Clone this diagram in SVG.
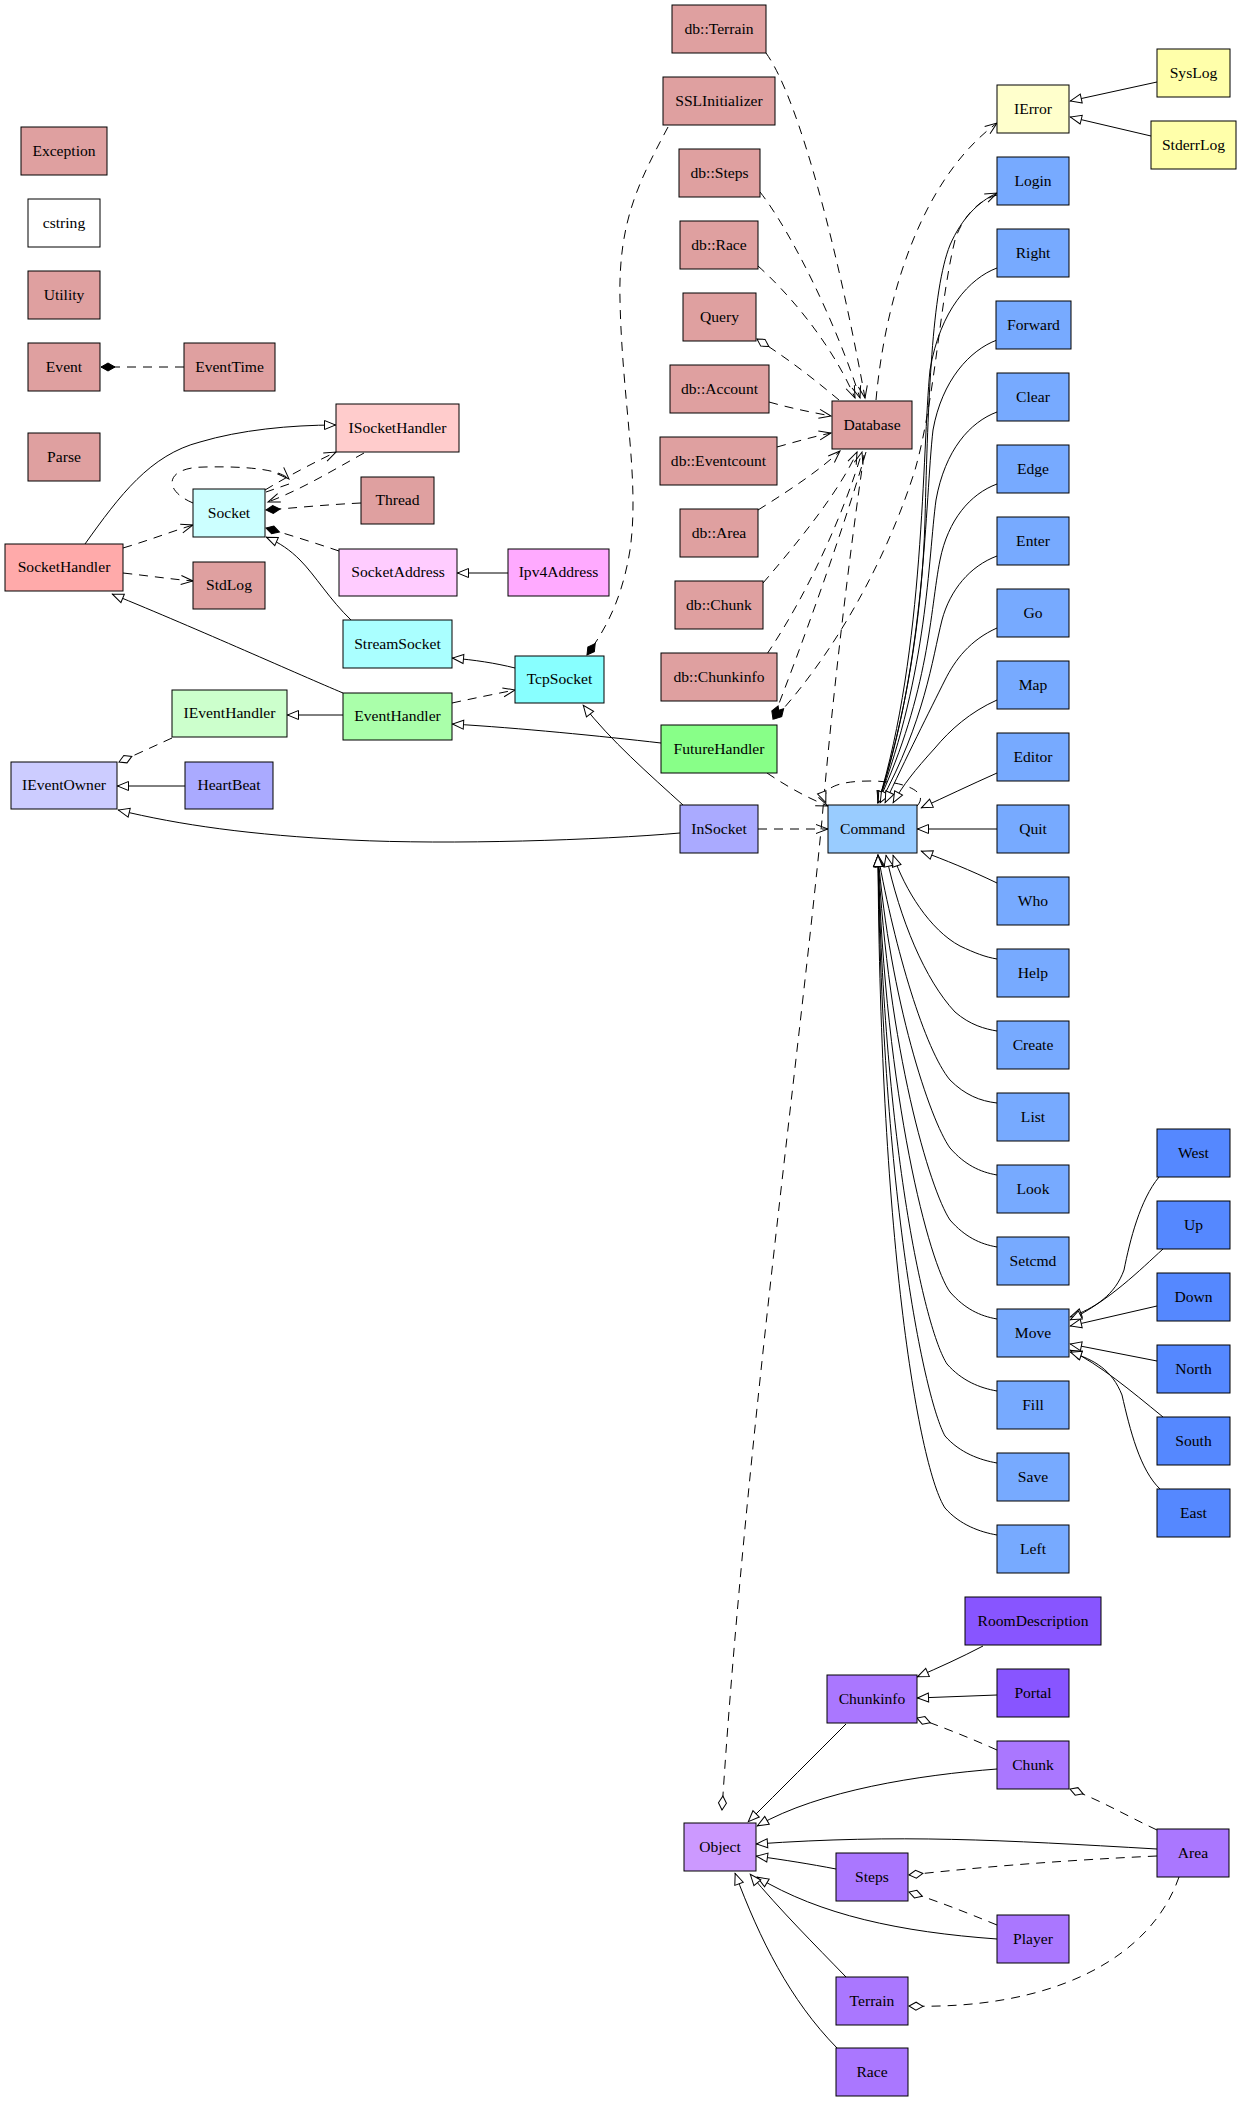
<svg xmlns="http://www.w3.org/2000/svg" width="1242" height="2101" viewBox="0 0 1242 2101">
<style>
.n rect{stroke:#000;stroke-width:1}
.n text{font-family:"Liberation Serif","Times New Roman",serif;font-size:15.6px;text-anchor:middle;fill:#000}
.e{fill:none;stroke:#000;stroke-width:1}
.d{stroke-dasharray:9,7}
.pk{fill:#dfa0a0}.wh{fill:#ffffff}
.c1{fill:#77aaff}.c2{fill:#5588ff}.cm{fill:#99ccff}
.p1{fill:#aa77ff}.p2{fill:#8855ff}.p0{fill:#cc99ff}
.v{marker-end:url(#vee)}.t{marker-end:url(#tri)}.f{marker-end:url(#dmdF)}.o{marker-end:url(#dmdO)}
</style>
<defs>
<marker id="vee" viewBox="0 0 12 10" refX="12" refY="5" markerWidth="12" markerHeight="10" orient="auto" markerUnits="userSpaceOnUse" overflow="visible"><path d="M0,0.5 L12,5 L0,9.5" fill="none" stroke="#000" stroke-width="1"/></marker>
<marker id="tri" viewBox="0 0 12 10" refX="12" refY="5" markerWidth="12" markerHeight="10" orient="auto" markerUnits="userSpaceOnUse" overflow="visible"><path d="M0.5,0.5 L11.5,5 L0.5,9.5 Z" fill="#fff" stroke="#000" stroke-width="1"/></marker>
<marker id="dmdF" viewBox="0 0 14 9" refX="14" refY="4.5" markerWidth="14" markerHeight="9" orient="auto" markerUnits="userSpaceOnUse" overflow="visible"><path d="M0,4.5 L7,0.5 L14,4.5 L7,8.5 Z" fill="#000" stroke="#000" stroke-width="1"/></marker>
<marker id="dmdO" viewBox="0 0 14 9" refX="14" refY="4.5" markerWidth="14" markerHeight="9" orient="auto" markerUnits="userSpaceOnUse" overflow="visible"><path d="M0,4.5 L7,0.5 L14,4.5 L7,8.5 Z" fill="#fff" stroke="#000" stroke-width="1"/></marker>
</defs>
<rect width="1242" height="2101" fill="#fff"/>

<g id="edges">
<path class="e d f" d="M184,367 L101,367"/>
<path class="e t" d="M85,544 C120,495 150,455 200,442 C240,430 290,425 336,425"/>
<path class="e d v" d="M123,548 C150,540 170,532 193,525"/>
<path class="e d v" d="M123,573 C150,576 170,579 193,581"/>
<path class="e d v" d="M265,490 C290,475 315,462 336,452"/>
<path class="e d v" d="M364,453 C330,472 300,490 268,502"/>
<path class="e d v" d="M193,503 C162,490 165,467 205,467 C250,466 280,470 289,479"/>
<path class="e d" d="M289,484 L266,492"/>
<path class="e d f" d="M361,503 C320,505 295,508 266,510"/>
<path class="e d f" d="M339,551 C315,543 290,535 266,528"/>
<path class="e t" d="M351,620 C330,600 315,575 300,560 C290,550 280,543 266,537"/>
<path class="e t" d="M508,573 L457,573"/>
<path class="e t" d="M515,668 C495,663 475,660 452,658"/>
<path class="e d f" d="M668,127 C640,180 618,220 620,300 C622,400 640,480 630,550 C622,600 605,630 587,655"/>
<path class="e t" d="M343,693 C300,675 200,630 112,594"/>
<path class="e t" d="M343,715 L287,715"/>
<path class="e d v" d="M452,703 C475,698 495,694 515,690"/>
<path class="e t" d="M661,743 C600,736 520,728 452,724"/>
<path class="e t" d="M683,805 C650,775 610,740 583,705"/>
<path class="e d o" d="M172,738 C150,748 135,755 119,762"/>
<path class="e t" d="M185,786 L117,786"/>
<path class="e t" d="M680,833 C600,840 450,845 350,840 C250,835 180,825 118,810"/>
<path class="e d v" d="M758,829 L828,829"/>

<path class="e d v" d="M766,53 C800,100 840,260 865,398"/>
<path class="e d v" d="M760,192 C790,230 835,320 860,398"/>
<path class="e d v" d="M758,266 C785,290 830,340 855,398"/>
<path class="e d o" d="M839,400 C815,380 790,360 757,339"/>
<path class="e d v" d="M769,402 C790,408 810,412 831,416"/>
<path class="e d v" d="M777,447 C795,442 812,437 831,433"/>
<path class="e d v" d="M758,510 C790,490 820,470 840,451"/>
<path class="e d v" d="M763,583 C800,540 840,490 857,452"/>
<path class="e d v" d="M767,654 C810,590 845,510 862,452"/>
<path class="e d f" d="M866,452 C840,540 800,650 773,719"/>
<path class="e d f" d="M997,195 C978,200 962,218 955,240 C940,300 935,400 915,470 C880,580 820,670 774,719"/>
<path class="e d v" d="M876,400 C885,300 920,180 997,123"/>
<path class="e d o" d="M864,455 C850,550 832,700 822,820 C800,1050 745,1450 722,1810"/>
<path class="e d v" d="M767,773 C785,785 805,797 828,806"/>
<path class="e d t" d="M917,806 C930,792 905,781 870,781 C838,781 820,788 826,803"/>
<path class="e v" d="M878,803 C905,720 922,620 925,520 C928,400 932,290 950,245 C962,218 978,202 997,193"/>

<path class="e t" d="M1157,82 L1070,101"/>
<path class="e t" d="M1151,136 L1070,117"/>

<path class="e t" d="M997,268 C970,278 940,310 930,370 C922,450 925,650 878,803"/>
<path class="e t" d="M997,340 C970,350 942,380 933,430 C925,500 926,660 878,803"/>
<path class="e t" d="M997,412 C970,422 945,450 936,500 C928,560 928,670 878,803"/>
<path class="e t" d="M997,484 C970,494 948,520 940,560 C930,610 930,690 878,803"/>
<path class="e t" d="M997,556 C970,566 950,590 942,620 C932,660 925,720 880,803"/>
<path class="e t" d="M997,628 C970,640 955,660 945,680 C930,710 905,760 885,803"/>
<path class="e t" d="M997,700 C970,712 950,730 935,748 C915,770 903,785 893,803"/>
<path class="e t" d="M997,773 C970,785 945,797 921,808"/>
<path class="e t" d="M997,829 L917,829"/>
<path class="e t" d="M997,883 C970,870 945,860 921,851"/>
<path class="e t" d="M997,959 C985,957 975,953 960,946 C930,930 905,890 893,855"/>
<path class="e t" d="M997,1031 C985,1029 970,1025 955,1012 C925,980 900,920 886,855"/>
<path class="e t" d="M997,1103 C980,1101 965,1095 950,1080 C925,1050 895,950 878,855"/>
<path class="e t" d="M997,1175 C980,1172 965,1165 950,1148 C930,1120 890,1000 878,855"/>
<path class="e t" d="M997,1247 C980,1244 965,1237 950,1220 C930,1190 888,1050 878,855"/>
<path class="e t" d="M997,1319 C980,1316 965,1309 950,1292 C930,1265 885,1100 878,855"/>
<path class="e t" d="M997,1391 C980,1388 962,1381 947,1364 C925,1330 884,1150 878,855"/>
<path class="e t" d="M997,1463 C980,1460 960,1453 945,1436 C925,1400 882,1200 878,855"/>
<path class="e t" d="M997,1535 C980,1532 960,1525 945,1508 C920,1470 880,1250 878,855"/>

<path class="e t" d="M1159,1177 C1140,1200 1130,1240 1124,1270 C1115,1295 1095,1308 1070,1317"/>
<path class="e t" d="M1163,1249 C1140,1270 1110,1300 1070,1320"/>
<path class="e t" d="M1157,1306 L1070,1326"/>
<path class="e t" d="M1157,1361 L1070,1344"/>
<path class="e t" d="M1163,1417 C1130,1390 1100,1365 1070,1350"/>
<path class="e t" d="M1160,1489 C1140,1470 1130,1430 1122,1395 C1112,1370 1095,1360 1070,1352"/>

<path class="e t" d="M983,1646 C960,1658 940,1667 917,1677"/>
<path class="e t" d="M997,1695 L917,1698"/>
<path class="e d o" d="M997,1750 C970,1738 945,1728 917,1718"/>
<path class="e t" d="M846,1724 C815,1755 780,1790 748,1822"/>
<path class="e t" d="M997,1769 C920,1775 820,1790 757,1826"/>
<path class="e d o" d="M1157,1830 C1125,1815 1100,1800 1070,1789"/>
<path class="e t" d="M1157,1849 C1000,1840 900,1834 756,1844"/>
<path class="e d o" d="M1157,1856 C1070,1860 990,1866 909,1875"/>
<path class="e t" d="M836,1869 C810,1864 785,1860 756,1856"/>
<path class="e d o" d="M997,1925 C965,1912 940,1902 909,1892"/>
<path class="e t" d="M997,1939 C900,1932 820,1915 757,1877"/>
<path class="e d o" d="M1179,1877 C1150,1960 1050,2010 909,2006"/>
<path class="e t" d="M846,1977 C815,1945 780,1910 750,1874"/>
<path class="e t" d="M837,2048 C790,2000 760,1940 735,1873"/>
</g>

<g id="n-Exception" class="n"><rect class="pk" x="21" y="127" width="86" height="48"/><text x="64" y="156">Exception</text></g>
<g id="n-cstring" class="n"><rect class="wh" x="28" y="199" width="72" height="48"/><text x="64" y="228">cstring</text></g>
<g id="n-Utility" class="n"><rect class="pk" x="28" y="271" width="72" height="48"/><text x="64" y="300">Utility</text></g>
<g id="n-Event" class="n"><rect class="pk" x="28" y="343" width="72" height="48"/><text x="64" y="372">Event</text></g>
<g id="n-EventTime" class="n"><rect class="pk" x="184" y="343" width="91" height="48"/><text x="229.5" y="372">EventTime</text></g>
<g id="n-Parse" class="n"><rect class="pk" x="28" y="433" width="72" height="48"/><text x="64" y="462">Parse</text></g>
<g id="n-ISocketHandler" class="n"><rect fill="#ffcccc" x="336" y="404" width="123" height="48"/><text x="397.5" y="433">ISocketHandler</text></g>
<g id="n-Socket" class="n"><rect fill="#ccffff" x="193" y="489" width="72" height="48"/><text x="229" y="518">Socket</text></g>
<g id="n-Thread" class="n"><rect class="pk" x="361" y="477" width="73" height="47"/><text x="397.5" y="505">Thread</text></g>
<g id="n-SocketHandler" class="n"><rect fill="#ffaaaa" x="5" y="544" width="118" height="47"/><text x="64" y="572">SocketHandler</text></g>
<g id="n-StdLog" class="n"><rect class="pk" x="193" y="562" width="72" height="47"/><text x="229" y="590">StdLog</text></g>
<g id="n-SocketAddress" class="n"><rect fill="#ffccff" x="339" y="549" width="118" height="47"/><text x="398" y="577">SocketAddress</text></g>
<g id="n-Ipv4Address" class="n"><rect fill="#ffaaff" x="508" y="549" width="101" height="47"/><text x="558.5" y="577">Ipv4Address</text></g>
<g id="n-StreamSocket" class="n"><rect fill="#aaffff" x="343" y="620" width="109" height="48"/><text x="397.5" y="649">StreamSocket</text></g>
<g id="n-TcpSocket" class="n"><rect fill="#88ffff" x="515" y="656" width="89" height="47"/><text x="559.5" y="684">TcpSocket</text></g>
<g id="n-IEventHandler" class="n"><rect fill="#ccffcc" x="172" y="690" width="115" height="47"/><text x="229.5" y="718">IEventHandler</text></g>
<g id="n-EventHandler" class="n"><rect fill="#aaffaa" x="343" y="693" width="109" height="47"/><text x="397.5" y="721">EventHandler</text></g>
<g id="n-IEventOwner" class="n"><rect fill="#ccccff" x="11" y="762" width="106" height="47"/><text x="64" y="790">IEventOwner</text></g>
<g id="n-HeartBeat" class="n"><rect fill="#aaaaff" x="185" y="762" width="88" height="47"/><text x="229" y="790">HeartBeat</text></g>

<g id="n-dbTerrain" class="n"><rect class="pk" x="672" y="5" width="94" height="48"/><text x="719" y="34">db::Terrain</text></g>
<g id="n-SSLInitializer" class="n"><rect class="pk" x="663" y="77" width="112" height="48"/><text x="719" y="106">SSLInitializer</text></g>
<g id="n-dbSteps" class="n"><rect class="pk" x="679" y="149" width="81" height="48"/><text x="719.5" y="178">db::Steps</text></g>
<g id="n-dbRace" class="n"><rect class="pk" x="680" y="221" width="78" height="48"/><text x="719" y="250">db::Race</text></g>
<g id="n-Query" class="n"><rect class="pk" x="683" y="293" width="73" height="48"/><text x="719.5" y="322">Query</text></g>
<g id="n-dbAccount" class="n"><rect class="pk" x="670" y="365" width="99" height="48"/><text x="719.5" y="394">db::Account</text></g>
<g id="n-dbEventcount" class="n"><rect class="pk" x="660" y="437" width="117" height="48"/><text x="718.5" y="466">db::Eventcount</text></g>
<g id="n-dbArea" class="n"><rect class="pk" x="680" y="509" width="78" height="48"/><text x="719" y="538">db::Area</text></g>
<g id="n-dbChunk" class="n"><rect class="pk" x="675" y="581" width="88" height="48"/><text x="719" y="610">db::Chunk</text></g>
<g id="n-dbChunkinfo" class="n"><rect class="pk" x="661" y="653" width="116" height="48"/><text x="719" y="682">db::Chunkinfo</text></g>
<g id="n-FutureHandler" class="n"><rect fill="#88ff88" x="661" y="725" width="116" height="48"/><text x="719" y="754">FutureHandler</text></g>
<g id="n-InSocket" class="n"><rect fill="#aaaaff" x="680" y="805" width="78" height="48"/><text x="719" y="834">InSocket</text></g>
<g id="n-Database" class="n"><rect class="pk" x="832" y="401" width="80" height="48"/><text x="872" y="430">Database</text></g>
<g id="n-Command" class="n"><rect class="cm" x="828" y="805" width="89" height="48"/><text x="872.5" y="834">Command</text></g>

<g id="n-IError" class="n"><rect fill="#ffffcc" x="997" y="85" width="72" height="48"/><text x="1033" y="114">IError</text></g>
<g id="n-SysLog" class="n"><rect fill="#ffffaa" x="1157" y="49" width="73" height="48"/><text x="1193.5" y="78">SysLog</text></g>
<g id="n-StderrLog" class="n"><rect fill="#ffffaa" x="1151" y="121" width="85" height="48"/><text x="1193.5" y="150">StderrLog</text></g>

<g id="n-Login" class="n"><rect class="c1" x="997" y="157" width="72" height="48"/><text x="1033" y="186">Login</text></g>
<g id="n-Right" class="n"><rect class="c1" x="997" y="229" width="72" height="48"/><text x="1033" y="258">Right</text></g>
<g id="n-Forward" class="n"><rect class="c1" x="996" y="301" width="75" height="48"/><text x="1033.5" y="330">Forward</text></g>
<g id="n-Clear" class="n"><rect class="c1" x="997" y="373" width="72" height="48"/><text x="1033" y="402">Clear</text></g>
<g id="n-Edge" class="n"><rect class="c1" x="997" y="445" width="72" height="48"/><text x="1033" y="474">Edge</text></g>
<g id="n-Enter" class="n"><rect class="c1" x="997" y="517" width="72" height="48"/><text x="1033" y="546">Enter</text></g>
<g id="n-Go" class="n"><rect class="c1" x="997" y="589" width="72" height="48"/><text x="1033" y="618">Go</text></g>
<g id="n-Map" class="n"><rect class="c1" x="997" y="661" width="72" height="48"/><text x="1033" y="690">Map</text></g>
<g id="n-Editor" class="n"><rect class="c1" x="997" y="733" width="72" height="48"/><text x="1033" y="762">Editor</text></g>
<g id="n-Quit" class="n"><rect class="c1" x="997" y="805" width="72" height="48"/><text x="1033" y="834">Quit</text></g>
<g id="n-Who" class="n"><rect class="c1" x="997" y="877" width="72" height="48"/><text x="1033" y="906">Who</text></g>
<g id="n-Help" class="n"><rect class="c1" x="997" y="949" width="72" height="48"/><text x="1033" y="978">Help</text></g>
<g id="n-Create" class="n"><rect class="c1" x="997" y="1021" width="72" height="48"/><text x="1033" y="1050">Create</text></g>
<g id="n-List" class="n"><rect class="c1" x="997" y="1093" width="72" height="48"/><text x="1033" y="1122">List</text></g>
<g id="n-Look" class="n"><rect class="c1" x="997" y="1165" width="72" height="48"/><text x="1033" y="1194">Look</text></g>
<g id="n-Setcmd" class="n"><rect class="c1" x="997" y="1237" width="72" height="48"/><text x="1033" y="1266">Setcmd</text></g>
<g id="n-Move" class="n"><rect class="c1" x="997" y="1309" width="72" height="48"/><text x="1033" y="1338">Move</text></g>
<g id="n-Fill" class="n"><rect class="c1" x="997" y="1381" width="72" height="48"/><text x="1033" y="1410">Fill</text></g>
<g id="n-Save" class="n"><rect class="c1" x="997" y="1453" width="72" height="48"/><text x="1033" y="1482">Save</text></g>
<g id="n-Left" class="n"><rect class="c1" x="997" y="1525" width="72" height="48"/><text x="1033" y="1554">Left</text></g>

<g id="n-West" class="n"><rect class="c2" x="1157" y="1129" width="73" height="48"/><text x="1193.5" y="1158">West</text></g>
<g id="n-Up" class="n"><rect class="c2" x="1157" y="1201" width="73" height="48"/><text x="1193.5" y="1230">Up</text></g>
<g id="n-Down" class="n"><rect class="c2" x="1157" y="1273" width="73" height="48"/><text x="1193.5" y="1302">Down</text></g>
<g id="n-North" class="n"><rect class="c2" x="1157" y="1345" width="73" height="48"/><text x="1193.5" y="1374">North</text></g>
<g id="n-South" class="n"><rect class="c2" x="1157" y="1417" width="73" height="48"/><text x="1193.5" y="1446">South</text></g>
<g id="n-East" class="n"><rect class="c2" x="1157" y="1489" width="73" height="48"/><text x="1193.5" y="1518">East</text></g>

<g id="n-RoomDescription" class="n"><rect class="p2" x="965" y="1597" width="136" height="48"/><text x="1033" y="1626">RoomDescription</text></g>
<g id="n-Chunkinfo" class="n"><rect class="p1" x="827" y="1675" width="90" height="48"/><text x="872" y="1704">Chunkinfo</text></g>
<g id="n-Portal" class="n"><rect class="p2" x="997" y="1669" width="72" height="48"/><text x="1033" y="1698">Portal</text></g>
<g id="n-Chunk" class="n"><rect class="p1" x="997" y="1741" width="72" height="48"/><text x="1033" y="1770">Chunk</text></g>
<g id="n-Object" class="n"><rect class="p0" x="684" y="1823" width="72" height="48"/><text x="720" y="1852">Object</text></g>
<g id="n-Area" class="n"><rect class="p1" x="1157" y="1829" width="72" height="48"/><text x="1193" y="1858">Area</text></g>
<g id="n-Steps" class="n"><rect class="p1" x="836" y="1853" width="72" height="48"/><text x="872" y="1882">Steps</text></g>
<g id="n-Player" class="n"><rect class="p1" x="997" y="1915" width="72" height="48"/><text x="1033" y="1944">Player</text></g>
<g id="n-Terrain" class="n"><rect class="p1" x="836" y="1977" width="72" height="48"/><text x="872" y="2006">Terrain</text></g>
<g id="n-Race" class="n"><rect class="p1" x="836" y="2048" width="72" height="48"/><text x="872" y="2077">Race</text></g>
</svg>
